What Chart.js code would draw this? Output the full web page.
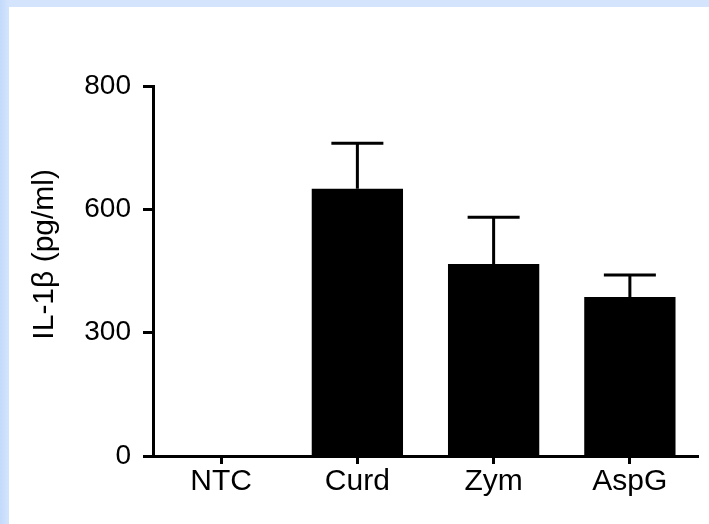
<!DOCTYPE html>
<html>
<head>
<meta charset="utf-8">
<script src="https://cdn.jsdelivr.net/npm/chart.js@4/dist/chart.umd.min.js"></script>
<style>
  html, body { margin: 0; padding: 0; }
  body {
    width: 709px; height: 524px; overflow: hidden;
    background: linear-gradient(90deg, #c3dafb 0px, #d4e4fc 9px, #d4e4fc 100%);
  }
  #panel {
    position: absolute; left: 9px; top: 7px; width: 700px; height: 517px;
    background: #ffffff;
  }
</style>
</head>
<body>
<div id="panel"><canvas id="graph" width="700" height="517"></canvas></div>
<script>
// Данные
var categories = ['NTC', 'Curd', 'Zym', 'AspG'];
var means = [0, 650, 467, 387];
var errTop = [0, 761, 581, 440];
var yTickLabels = ['0', '300', '600', '800'];

// Планки погрешностей поверх столбиков
var errorBars = {
    id: 'errorBars',
    afterDatasetsDraw: function (chart) {
        var c = chart.ctx;
        var y = chart.scales.y;
        var meta = chart.getDatasetMeta(0);
        c.save();
        c.strokeStyle = '#000';
        c.lineWidth = 3;
        meta.data.forEach(function (bar, i) {
            if (errTop[i] <= means[i]) return;
            var yTop = y.getPixelForValue(errTop[i]);
            var yBar = y.getPixelForValue(means[i]);
            c.beginPath();
            c.moveTo(bar.x, yBar);
            c.lineTo(bar.x, yTop);
            c.moveTo(bar.x - 26, yTop);
            c.lineTo(bar.x + 26, yTop);
            c.stroke();
        });
        c.restore();
    }
};

var family = '"Liberation Sans", Arial, sans-serif';

var ctx = document.getElementById('graph').getContext('2d');
var chart = new Chart(ctx, {
    type: 'bar',
    data: {
        labels: categories,
        datasets: [{
            data: means,
            backgroundColor: '#000',
            borderWidth: 0,
            barPercentage: 0.67,
            categoryPercentage: 1
        }]
    },
    options: {
        responsive: false,
        animation: false,
        layout: { padding: { top: 79, right: 11, left: 0, bottom: 0 } },
        plugins: { legend: { display: false }, tooltip: { enabled: false } },
        scales: {
            x: {
                grid: { offset: false, drawOnChartArea: false, tickLength: 8, tickWidth: 3, tickColor: '#000' },
                border: { color: '#000', width: 3 },
                ticks: { color: '#000', font: { family: family, size: 30 }, padding: 0 },
                afterFit: function (s) { s.height = 68; }
            },
            y: {
                min: 0, max: 900,
                grid: { drawOnChartArea: false, tickLength: 10, tickWidth: 3, tickColor: '#000' },
                border: { color: '#000', width: 3 },
                ticks: {
                    stepSize: 300, color: '#000', font: { family: family, size: 28 }, padding: 12,
                    callback: function (v, i) { return yTickLabels[i]; }
                },
                title: {
                    // пробелы в начале сдвигают повёрнутую подпись вверх, как в оригинале
                    display: true, text: '    IL-1β (pg/ml)', color: '#000',
                    font: { family: family, size: 30 }, padding: { top: 18, bottom: 0 }
                },
                afterFit: function (s) { s.width = 144; }
            }
        }
    },
    plugins: [errorBars]
});
</script>
</body>
</html>
